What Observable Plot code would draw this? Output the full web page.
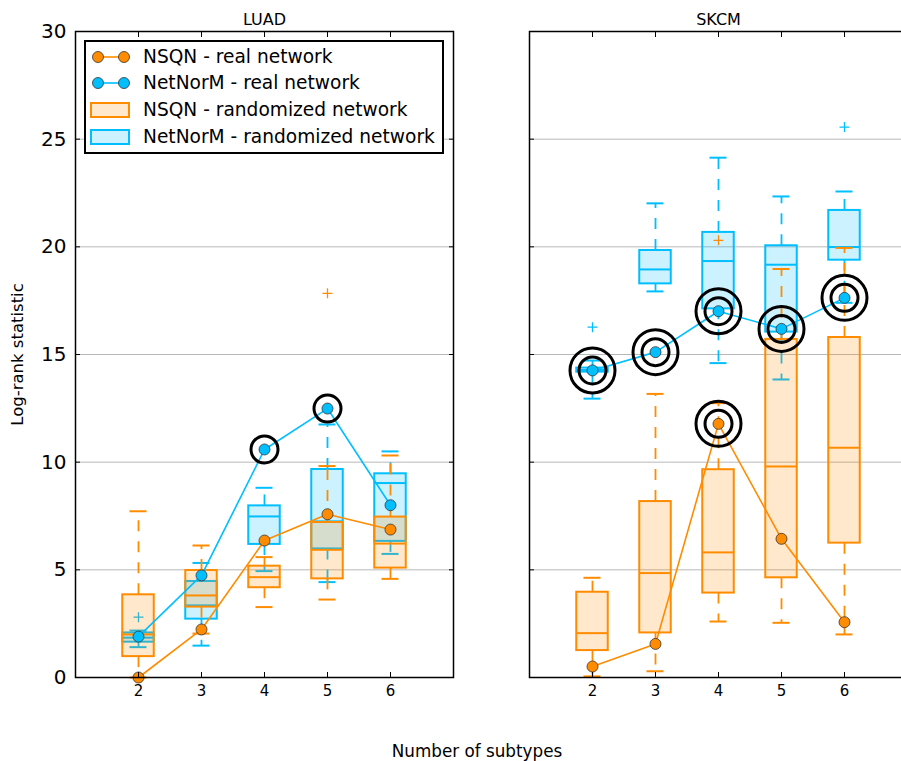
<!DOCTYPE html>
<html>
<head>
<meta charset="utf-8">
<script src="https://cdn.jsdelivr.net/npm/d3@7"></script>
<script src="https://cdn.jsdelivr.net/npm/@observablehq/plot@0.6"></script>
<style>
  body { margin: 0; overflow: hidden; background: #fff; font-family: "DejaVu Sans", sans-serif; }
  #wrap { position: relative; width: 901px; height: 761px; overflow: hidden; background: #fff; }
  #legend { position: absolute; left: 84px; top: 40px; width: 356px; height: 110px; border: 2px solid #000; background: #fff; }
  .row { position: absolute; left: 0; height: 24px; line-height: 24px; font-size: 18.6px; color: #000; white-space: nowrap; }
  .row svg { position: absolute; left: 0; top: 0; }
  .row span { position: absolute; left: 57px; top: 0; }
  #xlabel { position: absolute; left: 0; width: 954px; top: 741px; text-align: center; font-size: 16.8px; color: #000; }
</style>
</head>
<body>
<div id="wrap">
  <div id="chart"></div>
  <div id="legend"></div>
  <div id="xlabel"></div>
</div>
<script>
// ---------- data ----------
const cohorts = ["LUAD", "SKCM"];
const subtypes = [2, 3, 4, 5, 6];
const yTicks = [0, 5, 10, 15, 20, 25, 30];
const gridValues = [5, 10, 15, 20, 25];
const xTicks = [2, 3, 4, 5, 6];
const xLabel = "Number of subtypes";
const yLabel = "Log-rank statistic";
const seriesLabels = ["NSQN - real network", "NetNorM - real network", "NSQN - randomized network", "NetNorM - randomized network"];

// real-network statistics
const luadNsqnReal    = [0.00, 2.23, 6.36, 7.58, 6.87];
const luadNetnormReal = [1.90, 4.74, 10.59, 12.49, 8.00];
const skcmNsqnReal    = [0.51, 1.56, 11.78, 6.44, 2.57];
const skcmNetnormReal = [14.26, 15.11, 17.01, 16.19, 17.63];

// significance rings (number of circles)
const luadNsqnRings    = [0, 0, 0, 0, 0];
const luadNetnormRings = [0, 0, 1, 1, 0];
const skcmNsqnRings    = [0, 0, 2, 0, 0];
const skcmNetnormRings = [2, 2, 2, 2, 2];

// randomized networks: [whisker low, Q1, median, Q3, whisker high]
const luadNsqnBox = [
  [0.00, 0.97, 2.00, 3.84, 7.72],
  [2.04, 3.27, 3.81, 4.97, 6.13],
  [3.27, 4.17, 4.66, 5.17, 5.59],
  [3.62, 4.58, 5.93, 7.20, 9.82],
  [4.58, 5.08, 6.22, 7.45, 10.31]
];
const luadNetnormBox = [
  [1.41, 1.64, 1.85, 2.07, 2.18],
  [1.48, 2.71, 3.35, 4.46, 5.32],
  [4.94, 6.18, 7.48, 7.97, 8.81],
  [4.43, 5.97, 7.25, 9.66, 11.75],
  [5.74, 6.32, 9.03, 9.46, 10.50]
];
const skcmNsqnBox = [
  [0.05, 1.25, 2.06, 3.96, 4.63],
  [0.29, 2.07, 4.85, 8.17, 13.17],
  [2.60, 3.92, 5.81, 9.65, 12.74],
  [2.54, 4.63, 9.80, 15.70, 18.97],
  [2.00, 6.24, 10.67, 15.79, 19.95]
];
const skcmNetnormBox = [
  [12.95, 14.18, 14.28, 14.37, 14.72],
  [17.93, 18.28, 18.95, 19.83, 22.02],
  [14.60, 17.12, 19.34, 20.67, 24.14],
  [13.84, 16.04, 19.17, 20.05, 22.34],
  [17.40, 19.38, 19.99, 21.69, 22.57]
];

// outliers: [subtypes, value]
const luadNsqnOutliers    = [[5, 17.84]];
const luadNetnormOutliers = [[2, 2.80]];
const skcmNsqnOutliers    = [[4, 20.30]];
const skcmNetnormOutliers = [[2, 16.27], [6, 25.56]];

// ---------- styling ----------
const ORANGE = "#ff8c00";
const BLUE = "#00bfff";

// ---------- build tables ----------
function boxRows(cohort, arr) {
  return arr.map((b, i) => ({cohort, x: subtypes[i], lo: b[0], q1: b[1], med: b[2], q3: b[3], hi: b[4]}));
}
function realRows(cohort, vals, rings) {
  return vals.map((v, i) => ({cohort, x: subtypes[i], y: v, rings: rings[i]}));
}
function outRows(cohort, arr) {
  return arr.map(([x, y]) => ({cohort, x, y}));
}

const nsqnBoxes = [...boxRows("LUAD", luadNsqnBox), ...boxRows("SKCM", skcmNsqnBox)];
const netBoxes = [...boxRows("LUAD", luadNetnormBox), ...boxRows("SKCM", skcmNetnormBox)];
const nsqnReal = [...realRows("LUAD", luadNsqnReal, luadNsqnRings), ...realRows("SKCM", skcmNsqnReal, skcmNsqnRings)];
const netReal = [...realRows("LUAD", luadNetnormReal, luadNetnormRings), ...realRows("SKCM", skcmNetnormReal, skcmNetnormRings)];
const nsqnOut = [...outRows("LUAD", luadNsqnOutliers), ...outRows("SKCM", skcmNsqnOutliers)];
const netOut = [...outRows("LUAD", luadNetnormOutliers), ...outRows("SKCM", skcmNetnormOutliers)];
const allReal = [...nsqnReal, ...netReal];

const halfBox = 0.25, halfCap = 0.135;
const plusSymbol = {
  draw(ctx, size) {
    const r = Math.sqrt(size / Math.PI);
    ctx.moveTo(-r, 0); ctx.lineTo(r, 0);
    ctx.moveTo(0, -r); ctx.lineTo(0, r);
  }
};

function boxMarks(B, O, c) {
  return [
    Plot.ruleX(B, {fx: "cohort", x: "x", y1: "q3", y2: "hi", stroke: c, strokeWidth: 1.8, strokeDasharray: "11,10"}),
    Plot.ruleX(B, {fx: "cohort", x: "x", y1: "q1", y2: "lo", stroke: c, strokeWidth: 1.8, strokeDasharray: "11,10"}),
    Plot.ruleY(B, {fx: "cohort", y: "hi", x1: d => d.x - halfCap, x2: d => d.x + halfCap, stroke: c, strokeWidth: 2}),
    Plot.ruleY(B, {fx: "cohort", y: "lo", x1: d => d.x - halfCap, x2: d => d.x + halfCap, stroke: c, strokeWidth: 2}),
    Plot.rect(B, {fx: "cohort", x1: d => d.x - halfBox, x2: d => d.x + halfBox, y1: "q1", y2: "q3", fill: c, fillOpacity: 0.2, stroke: c, strokeWidth: 2}),
    Plot.ruleY(B, {fx: "cohort", y: "med", x1: d => d.x - halfBox, x2: d => d.x + halfBox, stroke: c, strokeWidth: 2}),
    Plot.dot(O, {fx: "cohort", x: "x", y: "y", symbol: plusSymbol, r: 5, stroke: c, strokeWidth: 1.3, fill: "none"})
  ];
}

const chart = Plot.plot({
  width: 910,
  height: 761,
  marginLeft: 75,
  marginRight: 2,
  marginTop: 31,
  marginBottom: 84,
  style: {fontFamily: "DejaVu Sans", background: "#fff", color: "#000"},
  fx: {domain: cohorts, paddingInner: 0.167, paddingOuter: 0, label: null},
  x: {domain: [1, 7]},
  y: {domain: [0, 30]},
  marks: [
    Plot.gridY(gridValues, {stroke: "#b8b8b8", strokeOpacity: 1, strokeWidth: 1}),
    ...boxMarks(netBoxes, netOut, BLUE),
    ...boxMarks(nsqnBoxes, nsqnOut, ORANGE),
    Plot.line(nsqnReal, {fx: "cohort", x: "x", y: "y", stroke: ORANGE, strokeWidth: 1.6}),
    Plot.line(netReal, {fx: "cohort", x: "x", y: "y", stroke: BLUE, strokeWidth: 1.6}),
    Plot.dot(nsqnReal, {fx: "cohort", x: "x", y: "y", r: 5.5, fill: ORANGE, stroke: "#333", strokeWidth: 0.8}),
    Plot.dot(netReal, {fx: "cohort", x: "x", y: "y", r: 5.5, fill: BLUE, stroke: "#333", strokeWidth: 0.8}),
    Plot.dot(allReal.filter(d => d.rings >= 1), {fx: "cohort", x: "x", y: "y", r: 13.5, fill: "none", stroke: "#000", strokeWidth: 3}),
    Plot.dot(allReal.filter(d => d.rings >= 2), {fx: "cohort", x: "x", y: "y", r: 22.5, fill: "none", stroke: "#000", strokeWidth: 3}),
    Plot.frame({stroke: "#000", strokeWidth: 1.5}),
    // axes
    Plot.axisY({anchor: "left", ticks: yTicks, tickSize: 0, tickPadding: 9, fontSize: 20, label: null}),
    Plot.axisY({anchor: "left", ticks: [], tickSize: 0, label: yLabel, labelAnchor: "center", labelOffset: 64, labelArrow: "none", fontSize: 16.5}),
    Plot.axisY({anchor: "left", ticks: yTicks, tickSize: -5, fill: "none", facetAnchor: null}),
    Plot.axisY({anchor: "right", ticks: yTicks, tickSize: -5, fill: "none", facetAnchor: null}),
    Plot.axisX({anchor: "bottom", ticks: xTicks, tickFormat: d => String(d), tickSize: 0, tickPadding: 8, fontSize: 15, label: null}),
    Plot.axisX({anchor: "bottom", ticks: xTicks, tickSize: -5, fill: "none"}),
    Plot.axisX({anchor: "top", ticks: xTicks, tickSize: -5, fill: "none"}),
    Plot.axisFx({anchor: "top", tickSize: 0, tickPadding: 7, fontSize: 16, label: null})
  ]
});
chart.style.maxWidth = "none";
document.getElementById("chart").appendChild(chart);

// ---------- legend ----------
const legend = document.getElementById("legend");
const rowCenters = [15, 41, 68, 95];
const legendKinds = [
  {kind: "line", color: ORANGE},
  {kind: "line", color: BLUE},
  {kind: "patch", color: ORANGE},
  {kind: "patch", color: BLUE}
];
seriesLabels.forEach((label, i) => {
  const row = document.createElement("div");
  row.className = "row";
  row.style.top = (rowCenters[i] - 12) + "px";
  const k = legendKinds[i];
  let sw;
  if (k.kind === "line") {
    sw = `<svg width="52" height="24"><line x1="12" y1="12" x2="38" y2="12" stroke="${k.color}" stroke-width="1.6"/>
      <circle cx="12" cy="12" r="5.5" fill="${k.color}" stroke="#333" stroke-width="0.8"/>
      <circle cx="38" cy="12" r="5.5" fill="${k.color}" stroke="#333" stroke-width="0.8"/></svg>`;
  } else {
    sw = `<svg width="52" height="24"><rect x="5" y="5" width="38" height="14" fill="${k.color}" fill-opacity="0.2" stroke="${k.color}" stroke-width="2"/></svg>`;
  }
  row.innerHTML = sw + `<span>${label}</span>`;
  legend.appendChild(row);
});
document.getElementById("xlabel").textContent = xLabel;
</script>
</body>
</html>
